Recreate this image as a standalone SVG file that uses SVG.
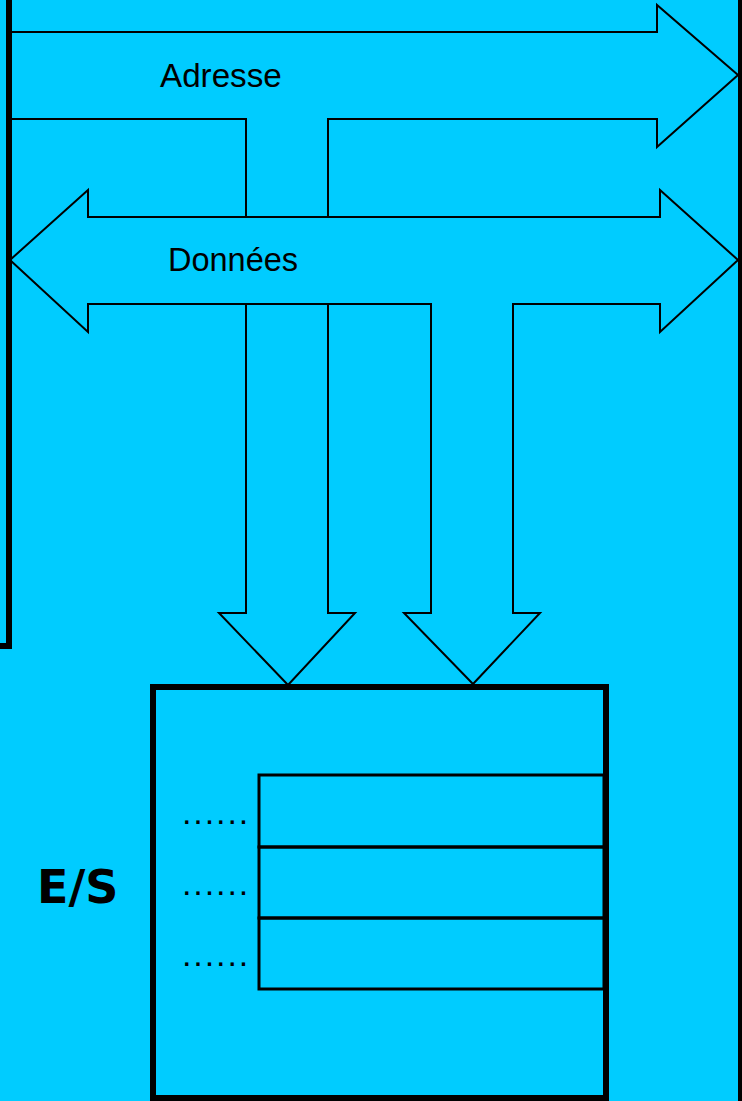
<svg xmlns="http://www.w3.org/2000/svg" width="742" height="1101" viewBox="0 0 742 1101">
<style>
.bus{fill:none;stroke:#000;stroke-width:2;stroke-linejoin:miter}
.thick{fill:none;stroke:#000;stroke-width:6}
.reg{fill:none;stroke:#000;stroke-width:3}
.lbl{font-family:"Liberation Sans",Arial,sans-serif;font-size:32.5px;fill:#000}
.dots{font-family:"Liberation Sans",Arial,sans-serif;font-size:34px;letter-spacing:1.9px;fill:#000}
.es{font-family:"DejaVu Sans",sans-serif;font-weight:bold;font-size:46px;fill:#000}
</style>
<rect x="0" y="0" width="742" height="1101" fill="#00CCFF"/>
<g id="cpu">
<path class="thick" d="M-10,646 H9 V-10"/>
</g>
<g id="memory">
<path class="thick" d="M741,-10 V1111"/>
</g>
<g id="connectors">
<path id="adresse-bus" class="bus" d="M10,32 H657 V5 L738,75 L657,147 V119 H328 V217 M246,217 V119 H10"/>
<path id="donnees-bus" class="bus" d="M10,260 L88,190 V217 H660 V190 L738,260 L660,332 V304 H513 V613 H540 L473,684 L404,613 H431 V304 H88 V332 Z"/>
<path id="adresse-down" class="bus" d="M246,304 V613 H219 L288,685 L355,613 H328 V304"/>
<text class="lbl" x="160" y="87" style="font-size:33.2px">Adresse</text>
<text class="lbl" x="168" y="271">Données</text>
</g>
<g id="es">
<rect class="thick" x="153" y="687" width="453" height="411"/>
<rect class="reg" x="259" y="775" width="345" height="72"/>
<rect class="reg" x="259" y="847" width="345" height="71"/>
<rect class="reg" x="259" y="918" width="345" height="71"/>
<text class="dots" x="182" y="824">......</text>
<text class="dots" x="182" y="895">......</text>
<text class="dots" x="182" y="966">......</text>
<text class="es" x="37" y="903">E/S</text>
</g>
</svg>
